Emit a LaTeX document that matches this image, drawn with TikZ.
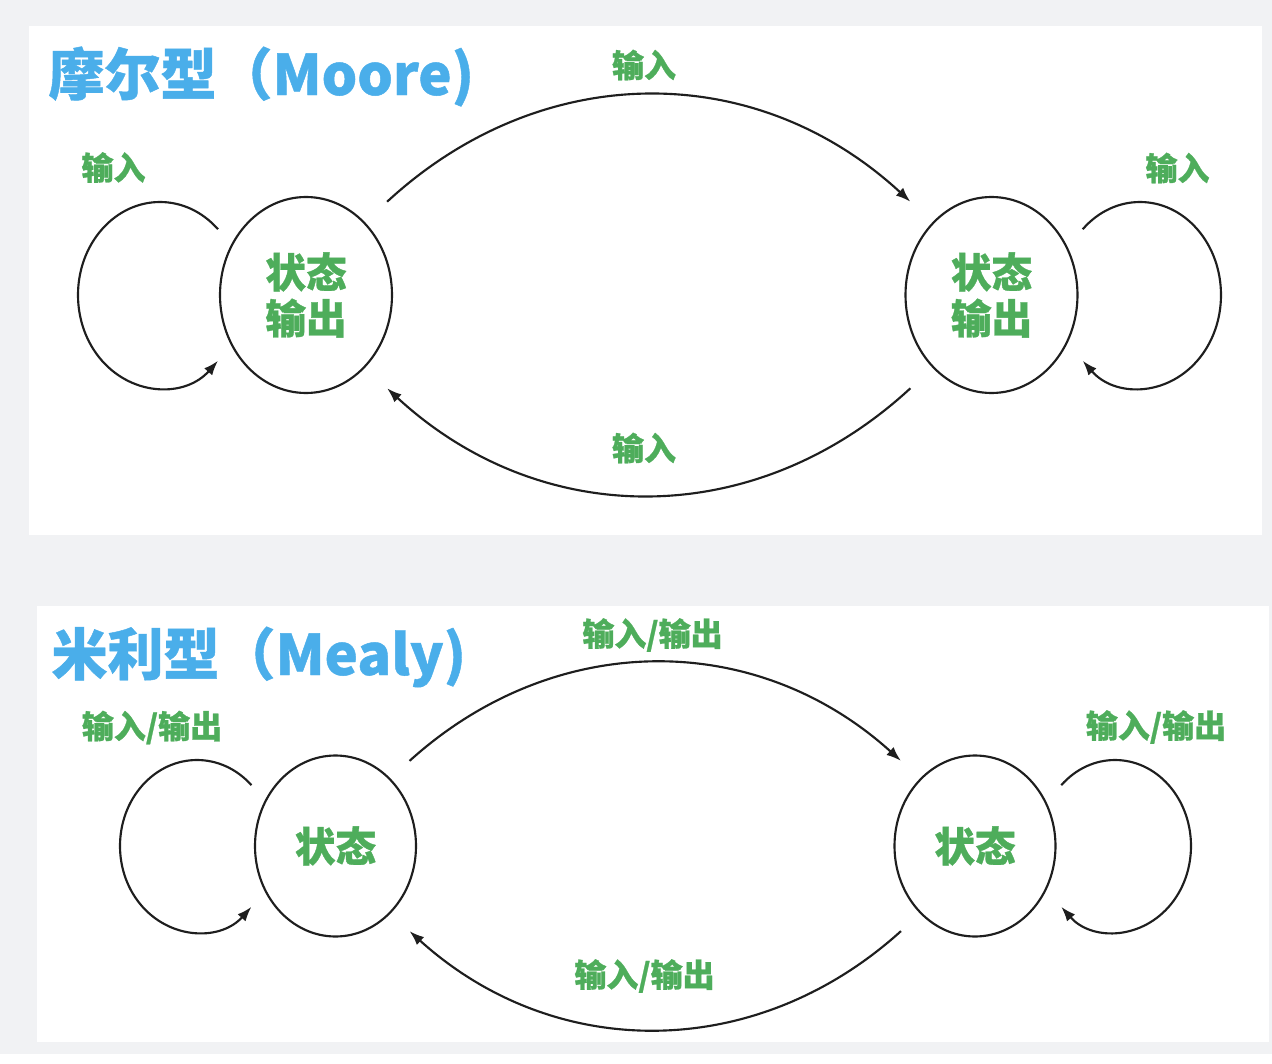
\documentclass[tikz,border=0pt]{standalone}
\usepackage{fontspec}
\newfontfamily\cjk{Noto Sans CJK SC}[BoldFeatures={FakeBold=0.8}]
\usetikzlibrary{arrows.meta,shapes.geometric}
\definecolor{bggray}{RGB}{241,242,244}
\definecolor{titleblue}{RGB}{74,174,234}
\definecolor{labelgreen}{RGB}{78,173,91}
\definecolor{linegray}{RGB}{30,30,30}
\tikzset{every picture/.style={line width=0.75pt}}
\tikzset{
  state/.style={ellipse, draw=linegray, line width=1.6pt, inner sep=0pt, align=center,
    text=labelgreen, font=\cjk\bfseries\fontsize{30.5}{34.5}\selectfont},
  flow/.style={draw=linegray, line width=1.6pt, -{Latex[length=11pt,width=8pt]}},
  lbl/.style={text=labelgreen, inner sep=0pt, font=\cjk\bfseries\fontsize{24}{28}\selectfont},
  ttl/.style={text=titleblue, inner sep=0pt, anchor=base west, font=\cjk\bfseries\fontsize{42}{50}\selectfont}
}

\begin{document}
\begin{tikzpicture}[x=0.75pt,y=0.75pt,yscale=-1,xscale=1]
		%Background
		\fill [bggray] (0,0) rectangle (1272,1054);
		\fill [white] (29,26) rectangle (1262,535);
		\fill [white] (37,606) rectangle (1269,1042);
		
		% Text Node
		\node [ttl] (t1) at (48,95) {摩尔型（Moore)};
		% Text Node
		\node [ttl] (t2) at (51,675) {米利型（Mealy)};
		
		%Shape: Ellipse
		\node [state, minimum width=129pt, minimum height=147pt] (s1) at (306,295) {状态\\输出};
		%Shape: Ellipse
		\node [state, minimum width=129pt, minimum height=147pt] (s2) at (991.5,295) {状态\\输出};
		%Shape: Ellipse
		\node [state, minimum width=120.75pt, minimum height=135.75pt] (s3) at (335.5,846) {状态};
		%Shape: Ellipse
		\node [state, minimum width=120.75pt, minimum height=135.75pt] (s4) at (975,846) {状态};
		
		%Curve Lines
		\draw [flow, shorten <=22.6pt, shorten >=22.6pt] (s1.51) .. controls (541.6,59) and (755.9,59) .. (s2.129);
		
		%Curve Lines
		\draw [flow, shorten <=22.6pt, shorten >=22.6pt] (s2.231) .. controls (755.9,531) and (541.6,531) .. (s1.-51);
		
		%Curve Lines
		\draw [flow, shorten <=19.4pt, shorten >=19.4pt] (s3.51) .. controls (554.6,629.6) and (755.9,629.6) .. (s4.129);
		
		%Curve Lines
		\draw [flow, shorten <=19.4pt, shorten >=19.4pt] (s4.231) .. controls (755.9,1062.4) and (554.6,1062.4) .. (s3.-51);
		
		%Loop
		\draw [flow] ([shift={(-146,0)}]s1.center) ++(-45:82 and 93) arc [start angle=-45, end angle=-315, x radius=82, y radius=93];
		
		%Loop
		\draw [flow] ([shift={(148.5,0)}]s2.center) ++(-135:81 and 93) arc [start angle=-135, end angle=135, x radius=81, y radius=93];
		
		%Loop
		\draw [flow] ([shift={(-138.5,0)}]s3.center) ++(-45:77 and 86) arc [start angle=-45, end angle=-315, x radius=77, y radius=86];
		
		%Loop
		\draw [flow] ([shift={(140,0)}]s4.center) ++(-135:76 and 86) arc [start angle=-135, end angle=135, x radius=76, y radius=86];
		
		% Text Node
		\node [lbl] (in12) at (644,65) {输入};
		% Text Node
		\node [lbl] (in21) at (644,448) {输入};
		% Text Node
		\node [lbl] (in11) at (113.5,167.5) {输入};
		% Text Node
		\node [lbl] (in22) at (1177.5,168) {输入};
		% Text Node
		\node [lbl] (io34) at (652.5,635) {输入/输出};
		% Text Node
		\node [lbl] (io43) at (644.5,976) {输入/输出};
		% Text Node
		\node [lbl] (io33) at (152,727.5) {输入/输出};
		% Text Node
		\node [lbl] (io44) at (1156,727) {输入/输出};
		
\end{tikzpicture}
\end{document}
